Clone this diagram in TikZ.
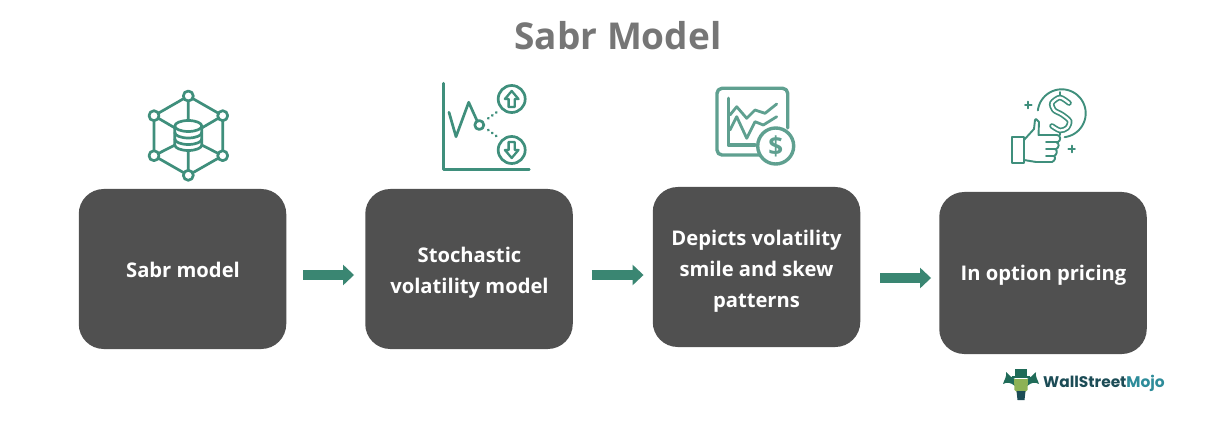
\documentclass[tikz,border=0pt]{standalone}
\usepackage{fontspec}
\setmainfont{Open Sans}
\newfontfamily\logofont{Poppins}
\usetikzlibrary{arrows.meta,calc}
\definecolor{boxgray}{HTML}{505050}
\definecolor{titlegray}{HTML}{767676}
\definecolor{arrowteal}{HTML}{3A8672}
\definecolor{icona}{HTML}{3F8F7C}
\definecolor{iconb}{HTML}{5FA090}
\definecolor{logodark}{HTML}{1C4C56}
\definecolor{logoblue}{HTML}{2E8C9A}
\definecolor{logogreen}{HTML}{8DB255}
\definecolor{logohat}{HTML}{1F6B58}
\tikzset{
 x=1pt,y=-1pt,
 stage/.style={fill=boxgray,rounded corners=25pt,minimum width=207.5pt,minimum height=160pt,inner sep=0pt},
 stagetext/.style={inner sep=0pt,text=white,align=center,font=\fontsize{20.2}{31}\selectfont\bfseries},
 flow/.style={draw=arrowteal,line width=10.5pt,-{Triangle[length=11pt,width=20pt]}},
 ico/.style={draw=icona,line width=2.7pt,line join=round,line cap=round,fill=none},
 icofill/.style={ico,fill=white},
 icob/.style={draw=iconb,line width=3.4pt,line join=round,line cap=round,fill=none},
 icoc/.style={draw=icona,line width=1.9pt,line join=round,line cap=round,fill=none},
}
\begin{document}
\begin{tikzpicture}
\useasboundingbox (0,0) rectangle (1227,425);
\fill[white] (0,0) rectangle (1227,425);
\node[font=\fontsize{37}{42}\selectfont\bfseries,text=titlegray] (title) at (618,36) {Sabr Model};
\node[stage] (box1) at (182.5,269) {};
\node[stage] (box2) at (469,269) {};
\node[stage] (box3) at (756.5,267) {};
\node[stage,minimum height=162pt] (box4) at (1043,273) {};
\node[stagetext] (text1) at (183,270) {Sabr model};
\node[stagetext] (text2) at (469.5,272.5) {Stochastic\\volatility model};
\node[stagetext] (text3) at (756.5,271) {Depicts volatility\\smile and skew\\patterns};
\node[stagetext] (text4) at (1043.5,275) {In option pricing};
\draw[flow,shorten <=17pt,shorten >=11pt] ([yshift=-6pt]box1.east) -- ([yshift=-6pt]box2.west);
\draw[flow,shorten <=19pt,shorten >=9pt] ([yshift=-6pt]box2.east) -- ([yshift=-8pt]box3.west);
\draw[flow,shorten <=20pt,shorten >=8pt] ([yshift=-11pt]box3.east) -- ([yshift=-5pt]box4.west);
% icon 1
\draw[ico] (188.3,96)--(222.7,115.7)--(222.7,155.7)--(188.3,175.3)--(154,155.7)--(154,115.7)--cycle;
\draw[ico] (188.3,96)--(188.3,120) (154,115.7)--(175,128) (222.7,115.7)--(201.7,128)
 (154,155.7)--(175,145) (222.7,155.7)--(201.7,145) (188.3,150)--(188.3,175.3);
\foreach \p in {(188.3,96),(154,115.7),(222.7,115.7),(154,155.7),(222.7,155.7),(188.3,175.3)}
  \draw[icofill] \p circle[radius=5];
\draw[icofill] (174.8,126) -- (174.8,145) arc[start angle=180,end angle=360,x radius=13.5,y radius=-5.5] -- (201.8,126);
\draw[icofill] (188.3,126) ellipse[x radius=13.5,y radius=5.5];
\draw[ico] (174.8,132.5) arc[start angle=180,end angle=360,x radius=13.5,y radius=-5.5]
           (174.8,139) arc[start angle=180,end angle=360,x radius=13.5,y radius=-5.5];
% icon 2
\draw[ico] (443.3,83.3)--(443.3,169.3)--(529.3,169.3);
\draw[ico] (449,112.3)--(456,136.7)--(468.7,102.3)--(476.7,120);
\draw[ico] (479.3,125) circle[radius=4.5];
\draw[ico,dash pattern=on 0.1pt off 4.8pt,line width=3pt] (488.3,118.3)--(498.3,111);
\draw[ico,dash pattern=on 0.1pt off 4.8pt,line width=3pt] (488.3,130)--(499.3,138.3);
\draw[ico] (511.7,99) circle[radius=13.5] (511.7,150) circle[radius=13.5];
\draw[ico,line width=2.3pt] (511.7,91)--(518.5,99)--(514.8,99)--(514.8,107)--(508.6,107)--(508.6,99)--(504.9,99)--cycle;
\draw[ico,line width=2.3pt] (511.7,158)--(518.5,150)--(514.8,150)--(514.8,142)--(508.6,142)--(508.6,150)--(504.9,150)--cycle;
% icon 3
\draw[icob] (760,155)--(722,155) arc[start angle=90,end angle=180,radius=5] -- (717,93.3) arc[start angle=180,end angle=270,radius=5]
  -- (782.7,88.3) arc[start angle=270,end angle=360,radius=5] -- (787.7,128);
\draw[icob] (728.3,98.3)--(728.3,145)--(755,145);
\draw[icob,line width=2.8pt] (730,115)--(736.7,106.7)--(746.7,118.3)--(755,110)--(765,113.3)--(776.7,104);
\draw[icob,line width=2.8pt] (730,130)--(736.7,116.7)--(746.7,138.3)--(755,121.7)--(763.3,125)--(776.7,116.7);
\draw[icob] (775.7,146) circle[radius=18];
\node[text=iconb,inner sep=0pt,font=\fontsize{26}{26}\selectfont\bfseries] (dollarb) at (775.7,146.5) {\$};
% icon 4
\draw[icoc] plot[domain=173:-83,samples=60] ({1061.7+24*cos(\x)},{113.3-24*sin(\x)});
\draw[icona,line width=1.9pt,line cap=round] (1060,92)--(1060,97) (1060,130)--(1060,135);
\draw[icona,line width=5.6pt,line cap=round] plot[smooth] coordinates {(1069,103) (1060,97.5) (1052,103) (1054,110) (1062,114.5) (1069.5,121) (1067,128) (1060,130.5) (1052,126)};
\draw[white,line width=2.2pt,line cap=round] plot[smooth] coordinates {(1069,103) (1060,97.5) (1052,103) (1054,110) (1062,114.5) (1069.5,121) (1067,128) (1060,130.5) (1052,126)};
\draw[icoc,fill=white] (1024,140)--(1034,129)--(1035,120)--(1036,119)--(1039,122)--(1038.5,135)--(1057,135)
  .. controls (1061,135) and (1061,141) .. (1058,142) -- (1056,142)
  .. controls (1060,143) and (1059,148) .. (1056,149) -- (1055,149)
  .. controls (1058,150) and (1057,155) .. (1054,156)
  .. controls (1056,157) and (1055,161) .. (1052,162) -- (1036,162) -- (1024,160);
\draw[icoc] (1011.7,137.3) rectangle (1024,162.7);
\draw[icoc] (1046,142)--(1056,142) (1046,149)--(1055,149) (1046,156)--(1054,156);
\draw[icoc] (1025,105)--(1031.6,105) (1028.3,101.7)--(1028.3,108.3);
\draw[icoc] (1068.4,149)--(1075,149) (1071.7,145.7)--(1071.7,152.3);
% logo
\fill[logohat] (1015,368.5) rectangle (1027,376);
\fill[logohat] (1012,375.5) rectangle (1030,378);
\fill[logohat] (1006,372) .. controls (1010,376) and (1012,378) .. (1015,379) -- (1015,386) .. controls (1010,382) and (1007,382) .. (1003,384) .. controls (1004,380) and (1007,377) .. (1006,372) -- cycle;
\fill[logohat] (1036,372) .. controls (1032,376) and (1030,378) .. (1027,379) -- (1027,386) .. controls (1032,382) and (1035,382) .. (1039,384) .. controls (1038,380) and (1035,377) .. (1036,372) -- cycle;
\fill[logogreen] (1014,379)--(1028,379)--(1027.5,390)--(1025,392)--(1017,392)--(1014.5,390)--cycle;
\fill[logodark] (1016.5,391)--(1025.5,391)--(1024.5,400)--(1017.5,400)--cycle;
\node[anchor=west,inner sep=0pt,font=\logofont\fontsize{15.4}{18}\selectfont\bfseries] (logo) at (1043,383)
  {\textcolor{logodark}{WallStreet}\textcolor{logoblue}{Mojo}};
\end{tikzpicture}
\end{document}
